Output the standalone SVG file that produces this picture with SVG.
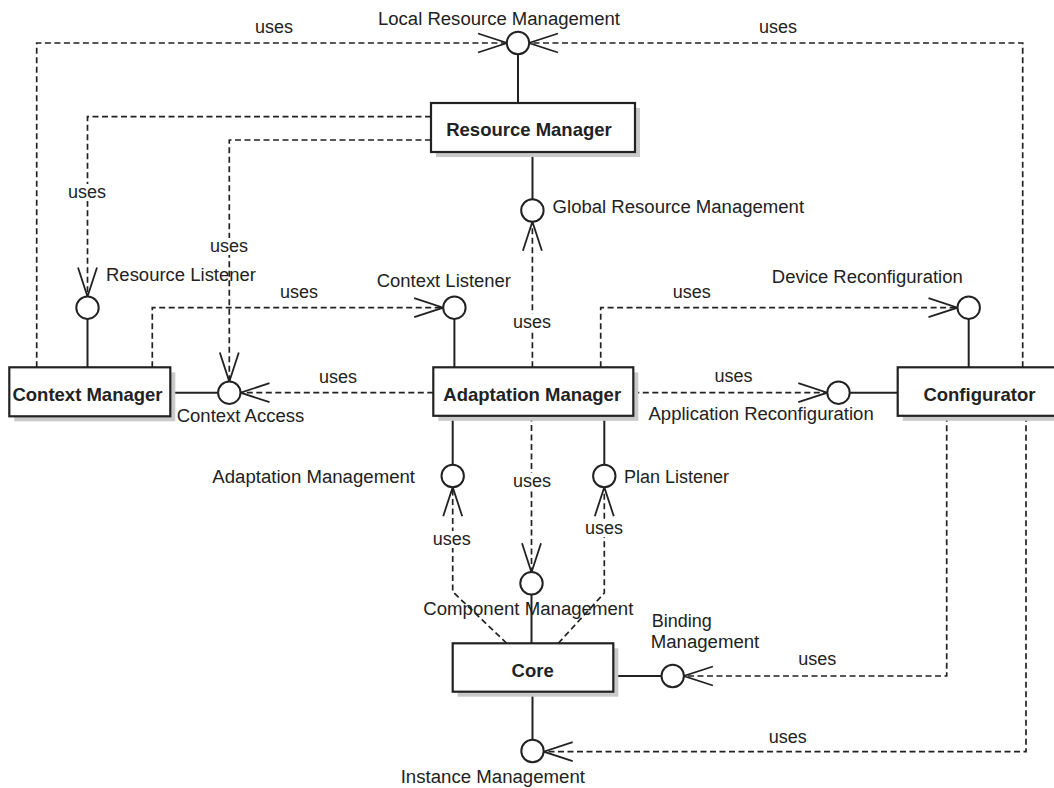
<svg xmlns="http://www.w3.org/2000/svg" width="1054" height="788" viewBox="0 0 1054 788">
  <style>
    .shadow{fill:#c9c9c9}
    .box{fill:#fff;stroke:#222;stroke-width:2.2}
    .name{font-family:"Liberation Sans",Arial,Helvetica,sans-serif;font-size:18.5px;font-weight:bold;fill:#222;text-anchor:middle}
    .lbl{font-family:"Liberation Sans",Arial,Helvetica,sans-serif;font-size:18px;fill:#222}
    .uses{font-family:"Liberation Sans",Arial,Helvetica,sans-serif;font-size:18px;fill:#222;text-anchor:middle}
    .iface{fill:#fff;stroke:#222;stroke-width:2}
    .stem{fill:none;stroke:#222;stroke-width:2}
    .dep{fill:none;stroke:#222;stroke-width:1.7;stroke-dasharray:6 3.5;marker-end:url(#open)}
    .bg{fill:#fff}
  </style>
  <defs>
    <marker id="open" markerUnits="userSpaceOnUse" viewBox="-32 -12 34 24" markerWidth="34" markerHeight="24" refX="0" refY="0" orient="auto" overflow="visible">
      <path d="M-29 -9.5 L0 0 L-29 9.5" fill="none" stroke="#222" stroke-width="1.8" stroke-dasharray="none"/>
    </marker>
  </defs>

  <rect width="1054" height="788" fill="#fff"/>

  <!-- dependency connectors ("uses") -->
  <g id="connectors">
    <path class="dep" d="M36.7 367.3 V43 H507"/>
    <path class="dep" d="M1022.7 367.3 V43 H529"/>
    <path class="dep" d="M431 116.7 H87.5 V296.5"/>
    <path class="dep" d="M431 140 H229.3 V381.5"/>
    <path class="dep" d="M152.3 367.3 V307.7 H443.2"/>
    <path class="dep" d="M532.4 367.3 V221.7"/>
    <path class="dep" d="M600.7 367.3 V307.7 H957.5"/>
    <path class="dep" d="M433.3 392.7 H240.5"/>
    <path class="dep" d="M633.3 392.7 H827.3"/>
    <path class="dep" d="M531.5 415.5 V572.3"/>
    <path class="dep" d="M506.7 643.3 L452.7 591.7 V487.2"/>
    <path class="dep" d="M558.3 643.3 L604.3 593 V487.2"/>
    <path class="dep" d="M946.7 415.7 V676 H683.9"/>
    <path class="dep" d="M1026 415.7 V751.7 H543.7"/>

    <!-- label backgrounds on vertical connectors -->
    <rect class="bg" x="66" y="184" width="42" height="17"/>
    <rect class="bg" x="208" y="238" width="42" height="17"/>
    <rect class="bg" x="511" y="314" width="42" height="17"/>
    <rect class="bg" x="511" y="473" width="42" height="17"/>
    <rect class="bg" x="583" y="520" width="42" height="17"/>
    <rect class="bg" x="431" y="531" width="42" height="17"/>

    <text class="uses" x="274" y="33">uses</text>
    <text class="uses" x="778" y="33">uses</text>
    <text class="uses" x="87" y="198">uses</text>
    <text class="uses" x="229" y="251.7">uses</text>
    <text class="uses" x="299" y="298">uses</text>
    <text class="uses" x="691.7" y="298.3">uses</text>
    <text class="uses" x="532" y="328.3">uses</text>
    <text class="uses" x="338" y="383.3">uses</text>
    <text class="uses" x="733.4" y="381.7">uses</text>
    <text class="uses" x="532" y="486.7">uses</text>
    <text class="uses" x="604" y="534.3">uses</text>
    <text class="uses" x="451.7" y="545">uses</text>
    <text class="uses" x="817.3" y="665">uses</text>
    <text class="uses" x="787.7" y="742.7">uses</text>
  </g>

  <!-- provided interfaces (lollipops) -->
  <g id="if-local-resource-management">
    <path class="stem" d="M518 54.2 V103"/>
    <circle class="iface" cx="518" cy="43" r="11.2"/>
    <text class="lbl" x="378" y="25" textLength="242" lengthAdjust="spacingAndGlyphs">Local Resource Management</text>
  </g>
  <g id="if-global-resource-management">
    <path class="stem" d="M532.5 152 V199.3"/>
    <circle class="iface" cx="532.4" cy="210.5" r="11.2"/>
    <text class="lbl" x="552.6" y="213.3" textLength="251.5" lengthAdjust="spacingAndGlyphs">Global Resource Management</text>
  </g>
  <g id="if-resource-listener">
    <path class="stem" d="M87.5 318.9 V367.3"/>
    <circle class="iface" cx="87.5" cy="307.7" r="11.2"/>
    <text class="lbl" x="106" y="281" textLength="150" lengthAdjust="spacingAndGlyphs">Resource Listener</text>
  </g>
  <g id="if-context-listener">
    <path class="stem" d="M454.4 318.9 V367.3"/>
    <circle class="iface" cx="454.4" cy="307.7" r="11.2"/>
    <text class="lbl" x="376.7" y="286.7" textLength="134.3" lengthAdjust="spacingAndGlyphs">Context Listener</text>
  </g>
  <g id="if-device-reconfiguration">
    <path class="stem" d="M968.7 318.9 V367.3"/>
    <circle class="iface" cx="968.7" cy="307.7" r="11.2"/>
    <text class="lbl" x="771.8" y="283.3" textLength="190.9" lengthAdjust="spacingAndGlyphs">Device Reconfiguration</text>
  </g>
  <g id="if-context-access">
    <path class="stem" d="M170.3 392.7 H218.1"/>
    <circle class="iface" cx="229.3" cy="392.7" r="11.2"/>
    <text class="lbl" x="176.7" y="421.7" textLength="127.6" lengthAdjust="spacingAndGlyphs">Context Access</text>
  </g>
  <g id="if-application-reconfiguration">
    <path class="stem" d="M849.7 392.7 H897.7"/>
    <circle class="iface" cx="838.5" cy="392.7" r="11.2"/>
    <text class="lbl" x="648.5" y="420" textLength="225.2" lengthAdjust="spacingAndGlyphs">Application Reconfiguration</text>
  </g>
  <g id="if-adaptation-management">
    <path class="stem" d="M452.7 415.5 V464.8"/>
    <circle class="iface" cx="452.7" cy="476" r="11.2"/>
    <text class="lbl" x="212.3" y="483.3" textLength="202.7" lengthAdjust="spacingAndGlyphs">Adaptation Management</text>
  </g>
  <g id="if-plan-listener">
    <path class="stem" d="M604.3 415.5 V464.8"/>
    <circle class="iface" cx="604.3" cy="476" r="11.2"/>
    <text class="lbl" x="624" y="483.3">Plan Listener</text>
  </g>
  <g id="if-component-management">
    <path class="stem" d="M531.5 594.5 V643.3"/>
    <circle class="iface" cx="531.5" cy="583.3" r="11.2"/>
    <text class="lbl" x="423.3" y="615" textLength="210" lengthAdjust="spacingAndGlyphs">Component Management</text>
  </g>
  <g id="if-binding-management">
    <path class="stem" d="M613.3 676 H661.5"/>
    <circle class="iface" cx="672.7" cy="676" r="11.2"/>
    <text class="lbl" x="651.7" y="626.7">Binding</text>
    <text class="lbl" x="650.7" y="648.3" textLength="108.6" lengthAdjust="spacingAndGlyphs">Management</text>
  </g>
  <g id="if-instance-management">
    <path class="stem" d="M532.5 691.7 V739.8"/>
    <circle class="iface" cx="532.5" cy="751" r="11.2"/>
    <text class="lbl" x="400.7" y="783.3" textLength="184.3" lengthAdjust="spacingAndGlyphs">Instance Management</text>
  </g>

  <!-- components -->
  <g id="resource-manager">
    <rect class="shadow" x="436" y="108" width="204" height="49"/>
    <rect class="box" x="431" y="103" width="204" height="49"/>
    <text class="name" x="529" y="136">Resource Manager</text>
  </g>
  <g id="context-manager">
    <rect class="shadow" x="14.3" y="372.3" width="161" height="49"/>
    <rect class="box" x="9.3" y="367.3" width="161" height="49"/>
    <text class="name" x="87.5" y="401">Context Manager</text>
  </g>
  <g id="adaptation-manager">
    <rect class="shadow" x="438.3" y="372.3" width="200" height="48.5"/>
    <rect class="box" x="433.3" y="367.3" width="200" height="48.5"/>
    <text class="name" x="532.2" y="401">Adaptation Manager</text>
  </g>
  <g id="configurator">
    <rect class="shadow" x="902.7" y="372.3" width="170" height="48.5"/>
    <rect class="box" x="897.7" y="367.3" width="170" height="48.5"/>
    <text class="name" x="979.4" y="401">Configurator</text>
  </g>
  <g id="core">
    <rect class="shadow" x="457.7" y="648.3" width="160.6" height="48.4"/>
    <rect class="box" x="452.7" y="643.3" width="160.6" height="48.4"/>
    <text class="name" x="532.7" y="676.7">Core</text>
  </g>
</svg>
